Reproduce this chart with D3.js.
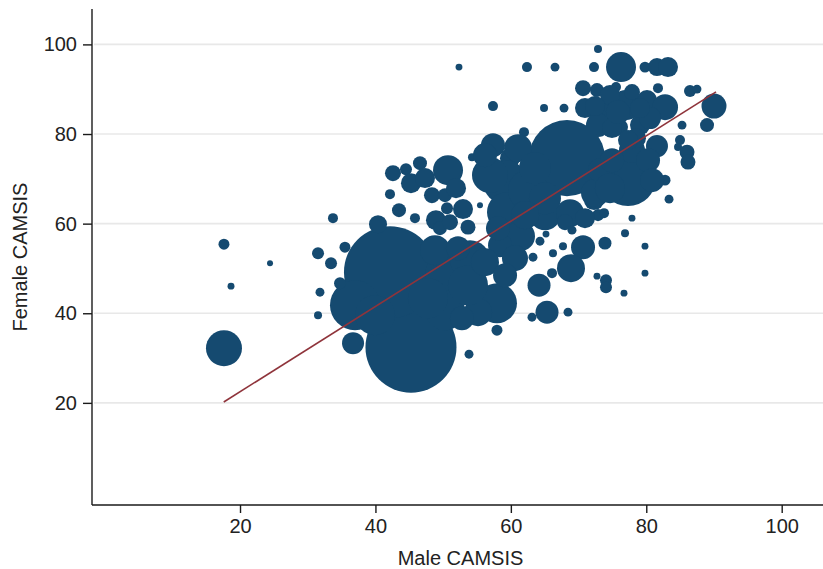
<!DOCTYPE html>
<html>
<head>
<meta charset="utf-8">
<script src="https://cdn.jsdelivr.net/npm/d3@7"></script>
<style>
  html, body { margin: 0; padding: 0; background: #fff; }
  svg { display: block; }
  text { font-family: "Liberation Sans", Arial, Helvetica, sans-serif; fill: #222; }
</style>
</head>
<body>
<svg id="chart" width="823" height="569"></svg>
<script>
// Occupational status scores: male vs female CAMSIS, bubble area = occupation weight
const maleCamsis = [
  17.63, 24.43, 18.67, 17.63, 33.73, 31.52, 33.44, 35.50, 31.81, 31.52,
  36.69, 53.82, 57.95, 45.25, 42.15, 36.98, 40.38, 34.77, 51.01, 53.97,
  57.95, 55.15, 50.27, 48.80, 42.15, 43.48, 42.59, 44.51, 46.58, 45.25,
  50.72, 48.35, 48.94, 50.57, 49.53, 45.84, 52.93, 53.67, 50.27, 55.44,
  52.34, 62.38, 66.52, 72.28, 72.87, 76.27, 79.81, 81.58, 83.21, 57.36,
  64.90, 67.85, 61.94, 90.00, 88.97, 86.46, 87.49, 85.28, 84.98, 84.69,
  86.02, 86.16, 82.77, 83.36, 75.53, 81.73, 70.66, 72.72, 70.95, 73.90,
  77.01, 80.11, 82.77, 79.07, 76.12, 81.58, 72.87, 68.29, 57.36, 59.87,
  54.26, 59.14, 56.92, 59.43, 62.53, 61.35, 65.04, 68.74, 72.28, 58.40,
  68.00, 60.61, 77.30, 77.89, 80.26, 72.43, 73.17, 77.89, 72.87, 73.76,
  76.86, 73.90, 79.81, 72.72, 74.05, 74.05, 79.81, 76.71, 70.66, 68.88,
  65.34, 63.12, 68.44, 64.16, 66.08, 64.30, 65.19, 66.22, 63.27, 67.70,
  69.03,
  47.76, 53.67, 56.18, 52.19, 52.78, 59.14, 39.94,
  61.06, 63.57, 65.04, 58.10, 56.18, 70.95, 62.09,
  47.32, 51.90, 51.01,
  74.64, 77.89, 80.55, 74.94, 78.48, 72.43,
  80.85, 74.64, 74.94,
  75.82, 79.07, 77.30
];
const femaleCamsis = [
  55.42, 51.18, 46.05, 32.21, 61.23, 53.41, 51.18, 54.75, 44.71, 39.58,
  33.33, 30.87, 36.23, 32.43, 49.17, 41.81, 59.89, 46.72, 48.50, 51.85,
  42.25, 40.25, 40.69, 54.08, 66.58, 63.01, 71.27, 72.16, 73.50, 69.04,
  71.94, 66.36, 60.78, 63.46, 58.99, 61.23, 63.24, 59.22, 66.36, 64.13,
  94.93, 94.93, 94.93, 94.93, 98.95, 94.93, 94.93, 94.93, 94.93, 86.23,
  85.78, 85.78, 80.42, 86.23, 81.99, 89.58, 90.02, 81.99, 78.64, 77.08,
  75.96, 73.73, 69.71, 65.47, 90.47, 90.24, 90.24, 89.80, 85.78, 84.89,
  86.45, 87.57, 86.00, 81.99, 81.54, 77.30, 81.99, 74.62, 77.52, 74.62,
  74.84, 69.26, 70.83, 62.57, 67.48, 57.21, 62.12, 62.34, 65.25, 55.20,
  60.33, 52.30, 70.16, 76.41, 74.17, 66.81, 71.94, 61.23, 61.90, 62.34,
  57.88, 55.65, 54.98, 48.28, 47.39, 45.83, 48.95, 44.49, 54.75, 50.07,
  40.25, 39.13, 40.25, 46.27, 48.95, 56.09, 57.66, 53.41, 52.52, 54.98,
  58.55,
  43.37, 46.27, 51.41, 54.53, 38.91, 48.50, 39.58,
  76.85, 72.39, 65.69, 58.99, 75.29, 61.23, 61.90,
  70.16, 67.92, 60.33,
  88.68, 89.35, 83.55, 81.32, 79.08, 86.23,
  69.71, 67.92, 74.17,
  84.89, 85.78, 78.64
];
const weights = [
  30, 9, 12, 324, 25, 36, 36, 30, 20, 16,
  121, 20, 30, 2070, 2116, 625, 81, 36, 625, 400,
  400, 196, 400, 225, 25, 49, 64, 36, 49, 100,
  225, 64, 100, 36, 49, 25, 100, 56, 49, 9,
  12, 25, 20, 25, 16, 225, 30, 81, 100, 25,
  16, 20, 25, 156, 49, 36, 20, 20, 25, 16,
  56, 56, 30, 20, 25, 25, 64, 49, 100, 100,
  225, 100, 169, 100, 64, 121, 144, 1444, 144, 100,
  16, 484, 324, 400, 400, 225, 256, 196, 100, 144,
  64, 169, 784, 169, 144, 196, 144, 12, 36, 25,
  16, 42, 12, 12, 36, 36, 12, 12, 144, 196,
  132, 20, 20, 132, 25, 20, 12, 16, 20, 16,
  20,
  400, 400, 196, 144, 144, 144, 400,
  196, 256, 256, 144, 144, 100, 196,
  100, 100, 64,
  100, 64, 121, 100, 100, 100,
  144, 225, 144,
  144, 100, 100
];

// Linear fit endpoints
const fitX = [17.6, 90.3];
const fitY = [20.2, 89.4];

const xTicks = [20, 40, 60, 80, 100];
const yTicks = [20, 40, 60, 80, 100];
const xTitle = "Male CAMSIS";
const yTitle = "Female CAMSIS";

const markerColor = "#154a70";
const fitColor = "#8f343b";

const svg = d3.select("#chart");
const plotL = 92, plotR = 823, plotT = 9, plotB = 505;

const x = d3.scaleLinear().domain([-1.86, 106.1]).range([plotL, plotR]);
const y = d3.scaleLinear().domain([-2.79, 107.9]).range([plotB, plotT]);
const r = d3.scaleSqrt().domain([0, 2070]).range([0, 45.5]);

// horizontal grid
svg.append("g")
  .selectAll("line")
  .data(yTicks)
  .join("line")
  .attr("x1", plotL + 2).attr("x2", plotR)
  .attr("y1", d => y(d)).attr("y2", d => y(d))
  .attr("stroke", "#e8e8e8").attr("stroke-width", 1.6);

// bubbles
const pts = maleCamsis.map((m, i) => ({ m, f: femaleCamsis[i], w: weights[i] }));
svg.append("g")
  .selectAll("circle")
  .data(pts)
  .join("circle")
  .attr("cx", d => x(d.m))
  .attr("cy", d => y(d.f))
  .attr("r", d => r(d.w))
  .attr("fill", markerColor);

// fitted line
const line = d3.line().x(d => x(d[0])).y(d => y(d[1]));
svg.append("path")
  .datum(fitX.map((v, i) => [v, fitY[i]]))
  .attr("d", line)
  .attr("fill", "none")
  .attr("stroke", fitColor)
  .attr("stroke-width", 1.6);

// axes
const xAxis = d3.axisBottom(x).tickValues(xTicks).tickSize(8).tickPadding(6).tickSizeOuter(0);
const yAxis = d3.axisLeft(y).tickValues(yTicks).tickSize(9).tickPadding(6).tickSizeOuter(0);

const gx = svg.append("g").attr("transform", `translate(0,${plotB})`).call(xAxis);
const gy = svg.append("g").attr("transform", `translate(${plotL},0)`).call(yAxis);

[gx, gy].forEach(g => {
  g.select(".domain").attr("stroke", "#1a1a1a").attr("stroke-width", 1.4);
  g.selectAll(".tick line").attr("stroke", "#1a1a1a").attr("stroke-width", 1.4);
  g.selectAll(".tick text")
    .attr("font-size", 20)
    .attr("font-family", '"Liberation Sans", Arial, sans-serif')
    .attr("fill", "#222");
});
gx.select(".domain").attr("d", `M${plotL},0H${plotR}`);
gy.select(".domain").attr("d", `M0,${plotT}V${plotB}`);

// axis titles
svg.append("text")
  .attr("x", (plotL + plotR) / 2 + 3)
  .attr("y", 565)
  .attr("text-anchor", "middle")
  .attr("font-size", 20)
  .text(xTitle);

svg.append("text")
  .attr("transform", `translate(27,${(plotT + plotB) / 2}) rotate(-90)`)
  .attr("text-anchor", "middle")
  .attr("font-size", 20)
  .text(yTitle);
</script>
</body>
</html>
